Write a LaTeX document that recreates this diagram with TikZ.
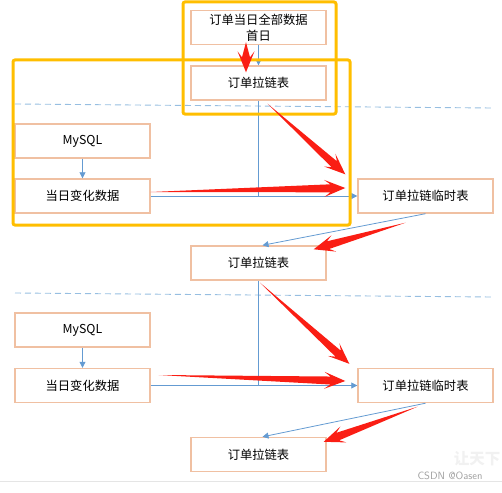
\documentclass[tikz,border=0pt]{standalone}
\usepackage{fontspec}
\newfontfamily\cjk{Noto Sans CJK SC}
\usetikzlibrary{arrows.meta,calc,positioning}
\definecolor{boxline}{RGB}{240,192,162}
\definecolor{frameyellow}{RGB}{255,190,0}
\definecolor{flowblue}{RGB}{100,155,210}
\definecolor{dashblue}{RGB}{150,190,225}
\definecolor{arrowred}{RGB}{250,30,20}
\newcommand{\fatarrow}[2]{%
  \coordinate (fa-tip) at (#2);
  \coordinate (fa-notch) at ($(#2)!15pt!(#1)$);
  \coordinate (fa-wing) at ($(#2)!21pt!(#1)$);
  \fill[arrowred] (#1)
    -- ($(fa-notch)!4pt!90:(fa-tip)$)
    -- ($(fa-wing)!8.5pt!90:(fa-tip)$)
    -- (fa-tip)
    -- ($(fa-wing)!8.5pt!-90:(fa-tip)$)
    -- ($(fa-notch)!4pt!-90:(fa-tip)$)
    -- cycle;}
\begin{document}
\begin{tikzpicture}[x=1pt,y=-1pt,
    every node/.style={font=\cjk\fontsize{12.3}{16}\selectfont},
    tbl/.style={draw=boxline,line width=1.4pt,fill=white,minimum width=135pt,
        minimum height=34pt,inner sep=0pt,align=center},
    flow/.style={flowblue,line width=.8pt},
    flowarr/.style={flow,-{Triangle[length=6pt,width=6pt]}},
    frame/.style={frameyellow,line width=3pt,rounded corners=2pt},
    split/.style={dashblue,line width=.9pt,dash pattern=on 6pt off 4pt}]
    \useasboundingbox (0,0) rectangle (502,492);
    \draw[gray!20,line width=.8pt] (0,481) -- (502,481);
    \node[text=gray!11,inner sep=0pt,font=\cjk\fontsize{15.5}{17}\selectfont\bfseries] (stamp) at (477,459) {让天下};
    \node[text=gray!75,font=\fontsize{10.5}{11}\selectfont\sffamily] (mark) at (450,476) {CSDN @Oasen};
    \draw[split] (15,104) -- (492,108);
    \draw[split] (15,293) -- (492,297);
    \begin{scope}
        \node[tbl] (first) at (258.5,27.5) {订单当日全部数据\\首日};
        \node[tbl] (lz1) at (258.5,83) {订单拉链表};
        \node[tbl] (src1) at (82.5,141) {MySQL};
        \node[tbl] (chg1) at (82.5,196) {当日变化数据};
        \node[tbl] (tmp1) at (425.5,196) {订单拉链临时表};
        \node[tbl] (lz2) at (258.5,263) {订单拉链表};
        \draw[flowarr] (first) -- (lz1);
        \draw[flowarr] (src1) -- (chg1);
        \draw[flowarr] (chg1) -- (tmp1);
        \draw[flow] (lz1) -- (lz1 |- chg1.east);
        \draw[flowarr] (tmp1.south) -- ($(lz2.north)+(4,0)$);
    \end{scope}
    \begin{scope}
        \node[tbl] (src2) at (82.5,330) {MySQL};
        \node[tbl] (chg2) at (82.5,385.5) {当日变化数据};
        \node[tbl] (tmp2) at (425.5,385.5) {订单拉链临时表};
        \node[tbl] (lz3) at (258.5,454.5) {订单拉链表};
        \draw[flowarr] (src2) -- (chg2);
        \draw[flowarr] (chg2) -- (tmp2);
        \draw[flow] (lz2) -- (lz2 |- chg2.east);
        \draw[flowarr] (tmp2.south) -- ($(lz3.north)+(4,0)$);
    \end{scope}
    \draw[frame] (183,2) rectangle (336,114);
    \draw[frame] (13,60) rectangle (350,225);
    \fatarrow{$(first.south)+(-12.5,-3)$}{$(lz1.north)+(-12.5,7)$}
    \fatarrow{$(lz1.south)+(9,3)$}{$(tmp1.north west)+(-12,-4)$}
    \fatarrow{$(chg1.east)+(0,-4)$}{$(tmp1.west)+(-12,-8)$}
    \fatarrow{$(tmp1.south)+(-20,9)$}{$(lz2.north east)+(-13,4)$}
    \fatarrow{$(lz2.south)+(1.5,2)$}{$(tmp2.north west)+(-8,-4)$}
    \fatarrow{$(chg2.east)+(8,-10.5)$}{$(tmp2.west)+(-12,-4.5)$}
    \fatarrow{$(tmp2.south)+(-8,3.5)$}{$(lz3.north east)+(-3,5)$}
\end{tikzpicture}
\end{document}
